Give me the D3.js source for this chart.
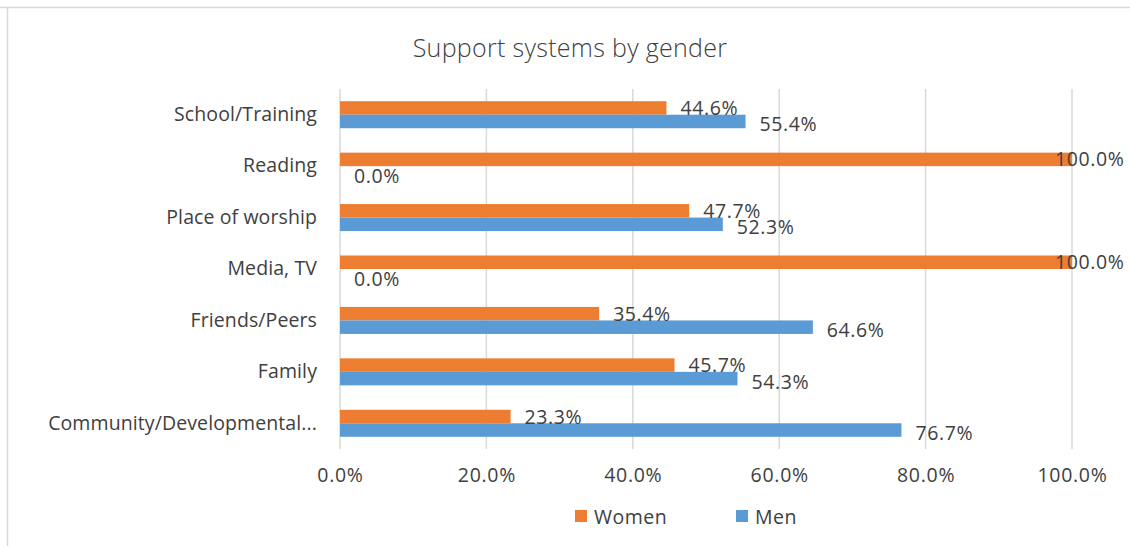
<!DOCTYPE html>
<html>
<head>
<meta charset="utf-8">
<script src="https://cdn.jsdelivr.net/npm/d3@7"></script>
<style>
  html, body { margin: 0; padding: 0; background: #fff; }
  svg { display: block; }
  text { font-family: "Open Sans", "Noto Sans", sans-serif; fill: #404040; }
</style>
</head>
<body>
<svg id="chart" width="1130" height="546"></svg>
<script>
const categories = ["School/Training", "Reading", "Place of worship", "Media, TV ", "Friends/Peers", "Family", "Community/Developmental..."];
const women = [44.6, 100.0, 47.7, 100.0, 35.4, 45.7, 23.3];
const men = [55.4, 0.0, 52.3, 0.0, 64.6, 54.3, 76.7];
const seriesNames = ["Women", "Men"];
const seriesColors = ["#ED7D31", "#5B9BD5"];
const xTicks = [0, 20, 40, 60, 80, 100];
const title = "Support systems by gender";

const svg = d3.select("#chart");
const W = 1130, H = 546;

// chart border (top & left visible)
svg.append("line").attr("x1", 0).attr("x2", W).attr("y1", 7.5).attr("y2", 7.5).attr("stroke", "#d9d9d9").attr("stroke-width", 1.5);
svg.append("line").attr("x1", 7.5).attr("x2", 7.5).attr("y1", 7).attr("y2", 546).attr("stroke", "#d9d9d9").attr("stroke-width", 1.5);

const plot = { left: 340, right: 1072, top: 89, bottom: 449 };

const x = d3.scaleLinear().domain([0, 100]).range([plot.left, plot.right]);
const y = d3.scaleBand().domain(categories).range([plot.top, plot.bottom]).paddingInner(0.475).paddingOuter(0.2375);
const ySub = d3.scaleBand().domain(seriesNames).range([0, y.bandwidth()]);

// title
svg.append("text").attr("x", 570).attr("y", 57).attr("text-anchor", "middle")
  .style("font-size", "25px").style("font-weight", 300).style("letter-spacing", "0.3px").text(title);

// gridlines
svg.append("g").selectAll("line").data(xTicks.slice(1)).join("line")
  .attr("x1", d => x(d)).attr("x2", d => x(d))
  .attr("y1", plot.top).attr("y2", plot.bottom)
  .attr("stroke", "#d9d9d9").attr("stroke-width", 1.5);

// x axis tick labels
const xAxis = d3.axisBottom(x).tickValues(xTicks).tickSize(0).tickPadding(0)
  .tickFormat(d => d.toFixed(1) + "%");
const gx = svg.append("g").attr("transform", `translate(0, ${plot.bottom + 19})`).call(xAxis);
gx.select(".domain").remove();
gx.selectAll("text").attr("fill", "#404040").style("font-size", "19.5px").style("letter-spacing", "0.7px").style("font-family", "'Open Sans', sans-serif");

// y axis
const yAxis = d3.axisLeft(y).tickSize(0).tickPadding(23);
const gy = svg.append("g").attr("transform", `translate(${plot.left}, 0)`).call(yAxis);
gy.select(".domain").remove();
gy.selectAll("text").attr("fill", "#404040").style("font-size", "19.5px").style("letter-spacing", "0.1px").style("font-family", "'Open Sans', sans-serif");

// vertical axis line
svg.append("line").attr("x1", plot.left).attr("x2", plot.left).attr("y1", plot.top).attr("y2", plot.bottom)
  .attr("stroke", "#d9d9d9").attr("stroke-width", 1.5);

// bars
const data = categories.map((c, i) => ({ cat: c, vals: [women[i], men[i]] }));
const groups = svg.append("g").selectAll("g").data(data).join("g")
  .attr("transform", d => `translate(0, ${y(d.cat)})`);
groups.selectAll("rect").data(d => d.vals.map((v, j) => ({ v, s: seriesNames[j], j }))).join("rect")
  .attr("x", x(0)).attr("y", d => ySub(d.s))
  .attr("width", d => x(d.v) - x(0)).attr("height", ySub.bandwidth())
  .attr("fill", d => seriesColors[d.j]);

// data labels
groups.selectAll("text.lbl").data(d => d.vals.map((v, j) => ({ v, s: seriesNames[j], j }))).join("text")
  .attr("class", "lbl")
  .attr("x", d => d.v >= 100 ? x(d.v) - 17 : x(d.v) + 14)
  .attr("y", d => ySub(d.s) + ySub.bandwidth() / 2 + (d.j === 0 ? 7 : 10))
  .style("font-size", "19.5px").style("letter-spacing", "0.6px")
  .text(d => d.v.toFixed(1) + "%");

// legend
const legend = svg.append("g");
const legendX = [575, 736];
seriesNames.forEach((s, i) => {
  legend.append("rect").attr("x", legendX[i]).attr("y", 510).attr("width", 12).attr("height", 12).attr("fill", seriesColors[i]);
  legend.append("text").attr("x", legendX[i] + 19).attr("y", 524).style("font-size", "19.5px").style("letter-spacing", "0.5px").text(s);
});
</script>
</body>
</html>
